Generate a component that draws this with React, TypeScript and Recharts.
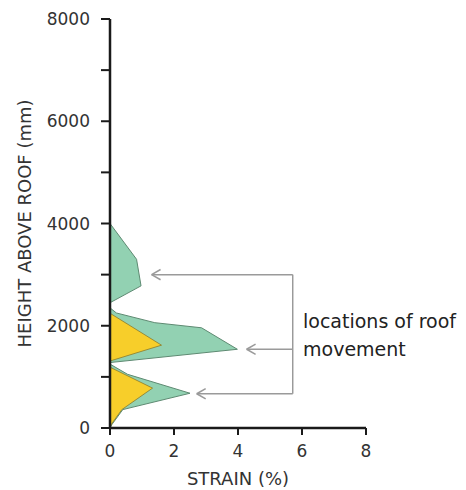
import React from 'react'
import { ComposedChart, Area, XAxis, YAxis, ReferenceLine } from 'recharts'

// height above roof (mm) for each sampled point of the profiles
const heights = [0, 60, 80, 360, 680, 780, 1050, 1190, 1250, 1280, 1310, 1540, 1620, 1960, 2060, 2245, 2250, 2350, 2450, 2780, 3300, 4000]
// strain (%) of the outer (green) envelope
const greenStrain = [0, 0.05, null, 0.4, 2.5, null, 0.55, null, 0, 0, null, 3.98, null, 2.86, 1.4, null, 0.2, 0, 0, 0.97, 0.83, 0]
// strain (%) of the inner (yellow) profile
const yellowStrain = [0, null, 0.05, 0.37, null, 1.33, null, 0, null, null, 0, null, 1.61, null, null, 0, null, null, null, null, null, null]

const xTicks = [0, 2, 4, 6, 8]
const yTicks = [0, 1000, 2000, 3000, 4000, 5000, 6000, 7000, 8000]

// arrow tips pointing at the roof movement zones, and the bracket they hang from
const arrowTips = [
  { x: 1.3, h: 3000 },
  { x: 4.27, h: 1540 },
  { x: 2.71, h: 670 },
]
const bracketX = 5.71
const noteLines = ['locations of roof', 'movement']

const rows = heights.map((h, i) => ({
  h,
  green: greenStrain[i],
  yellow: yellowStrain[i],
}))

const AXIS = '#1a1a1a'
const ARROW = '#9a9a9a'
const tickFont = { fontFamily: 'DejaVu Sans', fontSize: 17, fill: '#333' }

const App: React.FC = () => {
  const headLen = 0.28
  const headHalf = 100

  return (
    <div style={{ position: 'relative', width: 458, height: 482 }}>
      <ComposedChart
        width={458}
        height={482}
        layout="vertical"
        data={rows}
        margin={{ top: 11, right: 100, bottom: 0, left: 0 }}
      >
        <XAxis
          type="number"
          domain={[0, 8]}
          ticks={xTicks}
          height={62}
          tick={tickFont}
          tickSize={7}
          tickMargin={10}
          axisLine={{ stroke: AXIS, strokeWidth: 2.5 }}
          tickLine={{ stroke: AXIS, strokeWidth: 2 }}
          label={{
            value: 'STRAIN (%)',
            position: 'insideBottom',
            offset: 5,
            style: { fontFamily: 'DejaVu Sans', fontSize: 18, fill: '#333' },
          }}
        />
        <YAxis
          type="number"
          dataKey="h"
          domain={[0, 8000]}
          ticks={yTicks}
          width={102}
          reversed
          tick={tickFont}
          tickFormatter={(v: number) => (v % 2000 === 0 ? String(v) : '')}
          tickSize={9}
          tickMargin={11}
          axisLine={{ stroke: AXIS, strokeWidth: 2.5 }}
          tickLine={{ stroke: AXIS, strokeWidth: 2 }}
          label={{
            value: 'HEIGHT ABOVE ROOF (mm)',
            angle: -90,
            position: 'insideLeft',
            offset: 17,
            style: { fontFamily: 'DejaVu Sans', fontSize: 18, fill: '#333', textAnchor: 'middle' },
          }}
        />
        <Area
          type="linear"
          dataKey="green"
          fill="#92d1b2"
          fillOpacity={1}
          stroke="#5e8a72"
          strokeWidth={1}
          connectNulls
          dot={false}
          activeDot={false}
          isAnimationActive={false}
        />
        <Area
          type="linear"
          dataKey="yellow"
          fill="#f7ce2a"
          fillOpacity={1}
          stroke="#8a7a2a"
          strokeWidth={0.8}
          connectNulls
          dot={false}
          activeDot={false}
          isAnimationActive={false}
        />
        <ReferenceLine
          segment={[{ x: bracketX, y: arrowTips[0].h }, { x: bracketX, y: arrowTips[2].h }]}
          stroke={ARROW}
          strokeWidth={1.5}
        />
        {arrowTips.map((a, i) => (
          <React.Fragment key={i}>
            <ReferenceLine
              segment={[{ x: a.x, y: a.h }, { x: bracketX, y: a.h }]}
              stroke={ARROW}
              strokeWidth={1.5}
            />
            <ReferenceLine
              segment={[{ x: a.x, y: a.h }, { x: a.x + headLen, y: a.h + headHalf }]}
              stroke={ARROW}
              strokeWidth={1.5}
            />
            <ReferenceLine
              segment={[{ x: a.x, y: a.h }, { x: a.x + headLen, y: a.h - headHalf }]}
              stroke={ARROW}
              strokeWidth={1.5}
            />
          </React.Fragment>
        ))}
      </ComposedChart>
      <div
        style={{
          position: 'absolute',
          left: 295,
          top: 299,
          fontFamily: 'DejaVu Sans',
          fontSize: 19,
          lineHeight: '28px',
          color: '#222',
          whiteSpace: 'nowrap',
        }}
      >
        {noteLines.map((t) => (
          <div key={t}>{t}</div>
        ))}
      </div>
    </div>
  )
}

export default App
